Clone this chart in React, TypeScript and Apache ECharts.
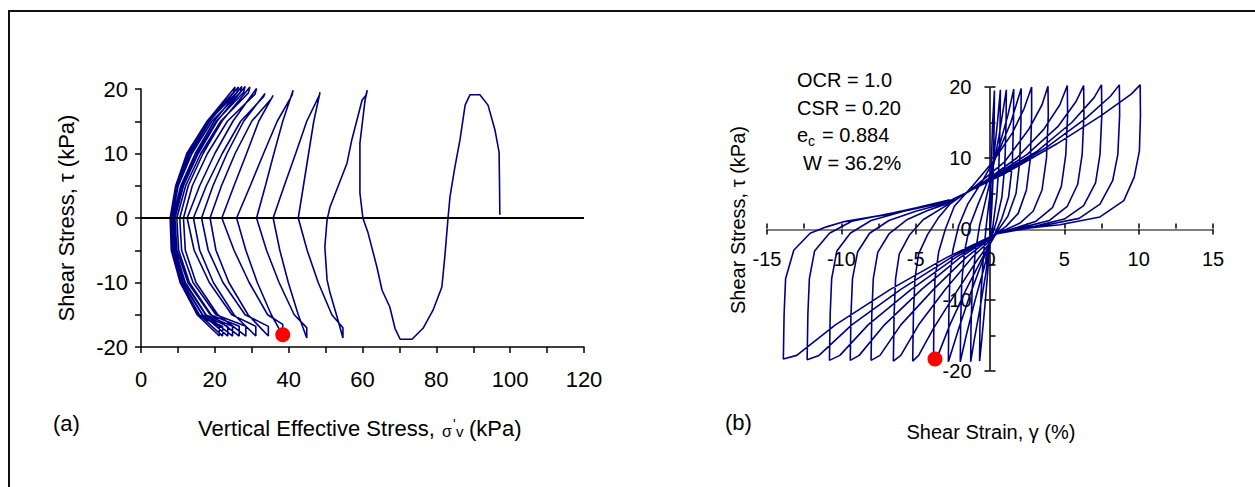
import React, { useEffect, useRef } from "react";
import * as echarts from "echarts";

const FONT = "'Liberation Sans', Arial, Helvetica, sans-serif";
const NAVY = "#000080";

// ---------- (a) stress path: [vertical effective stress, shear stress] ----------
const pathAFirstCycles = [
  [97.2, 0.5], [97.1, 6.0], [97.0, 10.2], [95.9, 13.6], [94.0, 17.5], [91.8, 19.1], [89.1, 19.1],
  [87.8, 17.5], [86.4, 12.1], [85.0, 7.8], [83.7, 3.3], [83.2, 0.2], [82.3, -6.0], [81.5, -10.7], [79.1, -14.3], [76.4, -17.1], [73.4, -18.8], [70.2, -18.8],
  [68.8, -17.1], [67.4, -13.8], [65.3, -11.2], [63.9, -7.6], [61.5, -2.3], [60.1, 0.0], [59.3, 3.9], [59.3, 11.6], [60.7, 18.3], [61.3, 19.8],
  [60.9, 19.0], [59.9, 18.3], [57.1, 12.1], [55.8, 8.5], [51.2, 1.7], [50.4, -0.3], [49.8, -4.5], [50.4, -9.6], [51.2, -11.6], [53.2, -15.5], [54.7, -18.6],
];
const pathAMidCycles = [
  [54.7, -17.0], [51.7, -15], [48.0, -10], [45.0, -5], [42.6, 0], [44.0, 5], [45.4, 10], [46.8, 15], [48.5, 19.5],
  [48.3, 19.0], [44.9, 15], [41.9, 10], [38.8, 5], [35.8, 0], [37.6, -5], [39.9, -10], [42.6, -15], [44.9, -18.6],
  [44.9, -17.0], [41.5, -15], [37.4, -10], [34.0, -5], [31.3, 0], [33.7, 5], [36.0, 10], [38.4, 15], [41.2, 19.8],
  [40.9, 19.0], [36.9, 15], [33.2, 10], [29.6, 5], [25.9, 0], [28.4, -5], [31.5, -10], [35.3, -15], [38.4, -18.2],
  [38.4, -16.5], [34.3, -15], [29.3, -10], [25.2, -5], [21.9, 0], [25.2, 5], [28.6, 10], [31.9, 15], [35.8, 19.0],
  [35.3, 18.5], [30.0, 15], [25.5, 10], [21.8, 5], [18.7, 0], [20.3, -5], [23.8, -10], [29.0, -15], [34.5, -18.3],
  [34.5, -16.8], [28.2, -15], [22.2, -10], [18.2, -5], [16.4, 0], [19.5, 5], [23.3, 10], [27.8, 15], [33.6, 19.3],
  [33.2, 18.8], [27.0, 15], [22.0, 10], [17.7, 5], [14.2, 0], [15.9, -5], [19.6, -10], [25.2, -15], [31.1, -18.3],
  [31.1, -16.8], [24.6, -15], [18.5, -10], [14.4, -5], [12.5, 0], [15.9, 5], [20.0, 10], [24.9, 15], [31.3, 20.1],
];
const pathALateCycles = [
  [30.9, 19.2], [23.4, 15], [18.0, 10], [13.9, 5], [11.5, 0], [12.0, -5], [14.9, -10], [20.8, -15], [28.4, -18.3],
  [28.4, -16.8], [20.3, -15], [14.1, -10], [11.0, -5], [10.5, 0], [12.8, 5], [16.8, 10], [21.9, 15], [29.5, 20.3],
  [29.1, 19.4], [21.6, 15], [16.2, 10], [12.1, 5], [9.7, 0], [10.2, -5], [13.1, -10], [19.0, -15], [26.6, -18.3],
  [26.6, -16.8], [18.8, -15], [12.7, -10], [9.7, -5], [9.2, 0], [11.5, 5], [15.5, 10], [20.6, 15], [28.2, 20.4],
  [27.8, 19.5], [20.4, 15], [15.2, 10], [11.1, 5], [8.8, 0], [9.3, -5], [12.0, -10], [17.6, -15], [24.8, -18.3],
  [24.8, -16.8], [17.5, -15], [11.8, -10], [9.0, -5], [8.5, 0], [10.8, 5], [14.7, 10], [19.8, 15], [27.3, 20.4],
  [26.9, 19.5], [19.2, 15], [13.8, 10], [10.1, 5], [8.3, 0], [8.8, -5], [11.3, -10], [16.7, -15], [23.5, -18.3],
  [23.5, -16.8], [16.6, -15], [11.2, -10], [8.6, -5], [8.1, 0], [9.9, 5], [13.3, 10], [18.6, 15], [26.4, 20.3],
  [26.0, 19.5], [18.3, 15], [13.0, 10], [9.7, 5], [8.0, 0], [8.4, -5], [10.8, -10], [15.8, -15], [22.1, -18.3],
  [22.1, -16.8], [15.7, -15], [10.7, -10], [8.3, -5], [7.9, 0], [9.5, 5], [12.6, 10], [17.9, 15], [25.5, 20.3],
  [25.1, 19.5], [17.9, 15], [12.4, 10], [9.4, 5], [7.9, 0], [8.3, -5], [10.6, -10], [15.2, -15], [21.2, -18.3],
  [21.2, -16.8], [15.3, -15], [10.6, -10], [8.2, -5], [7.9, 0], [9.2, 4],
];
const zeroLineA = [[0, 0], [120, 0]];
const failureA = [38.4, -18.1];

// ---------- (b) stress-strain loops: [shear strain %, shear stress] ----------
const loopsBSmall = [
  [0, 0], [0.05, 5], [0.1, 10], [0.18, 15], [0.3, 19.5],
  [0.28, 15], [0.22, 8], [0.12, 3], [0.0, -1], [-0.15, -6], [-0.35, -11], [-0.55, -15.5], [-0.7, -18.6],
  [-0.68, -14], [-0.6, -9], [-0.45, -4], [-0.25, 0.5], [0.0, 5], [0.25, 10], [0.5, 15], [0.7, 19.6],
  [0.68, 15], [0.6, 9], [0.45, 4.5], [0.2, 0.5], [0.0, -2], [-0.3, -6.5], [-0.7, -11.5], [-1.05, -15.5], [-1.3, -18.7],
  [-1.28, -14], [-1.2, -8.5], [-1.0, -3.5], [-0.7, 0.5], [-0.3, 4], [0.15, 8], [0.6, 13], [1.1, 19.6],
  [1.08, 15], [1.0, 9], [0.8, 4.5], [0.45, 1.2], [0.1, -1.2], [-0.4, -5.5], [-1.0, -10], [-1.6, -15], [-2.0, -18.7],
  [-1.97, -13], [-1.9, -7.5], [-1.7, -3], [-1.35, 0.5], [-0.8, 3.5], [-0.1, 7], [0.6, 11.5], [1.2, 16], [1.6, 19.7],
  [1.58, 15], [1.5, 9], [1.25, 4.5], [0.8, 1.5], [0.3, -0.8], [-0.5, -4.5], [-1.3, -9], [-2.1, -14], [-2.8, -18.7],
];
const loopsBMid = [
  [-2.77, -12], [-2.7, -7], [-2.5, -3], [-2.1, 0.5], [-1.5, 3.5], [-0.5, 6.8], [0.5, 10.5], [1.4, 15], [2.1, 19.8],
  [2.08, 15], [2.0, 9.5], [1.75, 5], [1.2, 1.8], [0.5, -0.3], [-0.5, -4], [-1.6, -8.5], [-2.7, -13.5], [-3.5, -17.8], [-3.8, -18.6],
  [-3.77, -12], [-3.7, -7], [-3.45, -3.2], [-3.0, 0], [-2.4, 3.2], [-1.2, 6], [0.2, 9.5], [1.5, 13.5], [2.3, 17], [2.8, 20.0],
  [2.8, 16], [2.72, 10], [2.45, 5.5], [1.9, 2.2], [1.1, 0.4], [0.4, -0.7], [-0.9, -4.5], [-2.3, -9], [-3.8, -14], [-4.8, -17.8], [-5.2, -18.6],
  [-5.15, -12], [-5.05, -7], [-4.8, -3.5], [-4.2, -0.8], [-3.5, 1.5], [-2.7, 3.5], [-1.0, 6], [1.0, 9.5], [2.6, 14], [3.5, 17.5], [3.9, 20.1],
  [3.92, 16], [3.8, 10], [3.5, 5.5], [2.9, 2.5], [2.0, 0.8], [0.5, -0.6], [-1.2, -4], [-3.0, -8.5], [-4.8, -13.5], [-6.0, -17.8], [-6.5, -18.6],
  [-6.45, -12], [-6.35, -7], [-6.1, -3.5], [-5.4, -0.8], [-4.5, 1.3], [-2.7, 3.6], [-0.5, 6.5], [1.8, 10], [3.6, 14], [4.7, 17.5], [5.2, 20.2],
  [5.22, 16], [5.1, 10.5], [4.8, 6], [4.2, 3], [3.1, 1.1], [1.8, 0.2], [0.4, -0.7], [-1.6, -4], [-3.8, -8.5], [-6.0, -13.5], [-7.4, -17.8], [-8.0, -18.5],
];
const loopsBLarge = [
  [-7.95, -12], [-7.85, -7], [-7.55, -3.3], [-6.8, -0.7], [-5.6, 1.3], [-4.2, 2.6], [-2.7, 3.7], [-0.2, 6.8], [2.5, 10.5], [4.6, 14.5], [5.8, 18], [6.3, 20.2],
  [6.32, 16], [6.2, 10.5], [5.9, 6.3], [5.2, 3.2], [4.0, 1.2], [2.3, 0.3], [0.4, -0.7], [-2.0, -4], [-4.6, -8.5], [-7.1, -13.5], [-8.8, -17.8], [-9.4, -18.5],
  [-9.35, -12], [-9.25, -7], [-8.9, -3.2], [-8.1, -0.6], [-6.8, 1.2], [-5.0, 2.5], [-2.7, 3.8], [0.2, 7.2], [3.2, 11], [5.5, 15], [7.0, 18.5], [7.5, 20.3],
  [7.52, 16], [7.4, 10.5], [7.1, 6.5], [6.3, 3.3], [5.0, 1.4], [3.0, 0.4], [0.4, -0.7], [-2.3, -4], [-5.3, -8.5], [-8.2, -13.5], [-10.1, -17.8], [-10.8, -18.5],
  [-10.75, -12], [-10.65, -7], [-10.3, -3.1], [-9.4, -0.6], [-8.0, 1.2], [-5.8, 2.5], [-2.7, 3.9], [0.6, 7.5], [3.8, 11.5], [6.4, 15.5], [8.1, 18.7], [8.7, 20.3],
  [8.72, 16], [8.6, 10.5], [8.25, 6.8], [7.4, 3.5], [6.0, 1.5], [3.6, 0.5], [0.4, -0.7], [-2.6, -4], [-6.0, -8.5], [-9.3, -13.5], [-11.5, -17.8], [-12.3, -18.4],
  [-12.25, -12], [-12.15, -7], [-11.8, -3.1], [-10.8, -0.6], [-9.3, 1.1], [-6.5, 2.3], [-2.7, 4.0], [1.0, 7.8], [4.5, 12], [7.5, 16], [9.5, 19], [10.1, 20.3],
  [10.12, 16], [10.05, 11], [9.7, 7.3], [9.0, 4.0], [7.4, 1.7], [4.7, 0.6], [2.5, 0.1], [0.4, -0.7], [-2.9, -4], [-6.7, -8.5], [-10.4, -13.5], [-13.0, -17.8], [-13.9, -18.3],
  [-13.85, -12], [-13.75, -7], [-13.2, -3], [-12.1, -0.6], [-11.0, 0.3], [-9.9, 1.0], [-6.5, 2.2], [-2.7, 4.1],
];
const failureB = [-3.7, -18.3];

const annotationLines = ["OCR = 1.0", "CSR = 0.20", "= 0.884", "W = 36.2%"];

const pathA = [...pathAFirstCycles, ...pathAMidCycles, ...pathALateCycles];
const pathB = [...loopsBSmall, ...loopsBMid, ...loopsBLarge];

const txt = (text: string, x: number, y: number, size: number, extra: any = {}) => ({
  type: "text",
  x,
  y,
  silent: true,
  ...extra,
  style: {
    text,
    fill: "#000",
    fontSize: size,
    fontFamily: FONT,
    textAlign: extra.align || "left",
    textVerticalAlign: "middle",
    align: extra.align || "left",
    verticalAlign: "middle",
  },
});

const blackLine = { color: "#000", width: 1.5 };
const hiddenAxis = (gridIndex: number, min: number, max: number) => ({
  gridIndex, type: "value", min, max, show: false,
  axisLine: { show: false, onZero: false }, axisTick: { show: false }, axisLabel: { show: false },
  splitLine: { show: false },
});

const option: any = {
  animation: false,
  backgroundColor: "#fff",
  grid: [
    { left: 141, top: 89, width: 443, height: 258, containLabel: false, outerBoundsMode: "none" },
    { left: 767, top: 87, width: 446, height: 284, containLabel: false, outerBoundsMode: "none" },
    // holder for the horizontal axis of (b), drawn at tau = 0
    { left: 767, top: 228.5, width: 446, height: 1, containLabel: false, outerBoundsMode: "none" },
    // holder for the vertical axis of (b), drawn at gamma = 0
    { left: 989.5, top: 87, width: 1, height: 284, containLabel: false, outerBoundsMode: "none" },
  ],
  xAxis: [
    {
      gridIndex: 0, type: "value", min: 0, max: 120, interval: 20, position: "bottom",
      axisLine: { onZero: false, lineStyle: blackLine },
      axisTick: { show: true, length: 6, lineStyle: blackLine },
      minorTick: { show: true, splitNumber: 2, length: 6, lineStyle: blackLine },
      axisLabel: { fontSize: 22, color: "#000", fontFamily: FONT, margin: 21 },
      splitLine: { show: false }, minorSplitLine: { show: false },
    },
    hiddenAxis(1, -15, 15),
    {
      gridIndex: 2, type: "value", min: -15, max: 15, interval: 5, position: "bottom",
      axisLine: { onZero: false, lineStyle: { color: "#555", width: 1.5 } },
      axisTick: { show: true, length: 5, lineStyle: blackLine },
      minorTick: { show: false },
      axisLabel: { fontSize: 20, color: "#000", fontFamily: FONT, margin: 19 },
      splitLine: { show: false },
    },
    {
      gridIndex: 2, type: "value", min: -15, max: 15, interval: 5, position: "top",
      axisLine: { show: false, onZero: false },
      axisTick: { show: true, length: 5, lineStyle: blackLine },
      minorTick: { show: true, splitNumber: 2, length: 5, lineStyle: blackLine },
      axisLabel: { show: false },
      splitLine: { show: false },
    },
    hiddenAxis(3, 0, 1),
  ],
  yAxis: [
    {
      gridIndex: 0, type: "value", min: -20, max: 20, interval: 10, position: "left",
      axisLine: { onZero: false, lineStyle: blackLine },
      axisTick: { show: true, length: 6, lineStyle: blackLine },
      minorTick: { show: true, splitNumber: 2, length: 6, lineStyle: blackLine },
      axisLabel: { fontSize: 22, color: "#000", fontFamily: FONT, margin: 13 },
      splitLine: { show: false }, minorSplitLine: { show: false },
    },
    hiddenAxis(1, -20, 20),
    hiddenAxis(2, 0, 1),
    {
      gridIndex: 3, type: "value", min: -20, max: 20, interval: 10, position: "left",
      axisLine: { onZero: false, lineStyle: blackLine },
      axisTick: { show: true, length: 5, lineStyle: blackLine },
      minorTick: { show: false },
      axisLabel: { fontSize: 20, color: "#000", fontFamily: FONT, margin: 18 },
      splitLine: { show: false },
    },
    {
      gridIndex: 3, type: "value", min: -20, max: 20, interval: 10, position: "right",
      axisLine: { show: false, onZero: false },
      axisTick: { show: true, length: 5, lineStyle: blackLine },
      minorTick: { show: true, splitNumber: 2, length: 5, lineStyle: blackLine },
      axisLabel: { show: false },
      splitLine: { show: false },
    },
  ],
  series: [
    {
      type: "line", xAxisIndex: 0, yAxisIndex: 0, data: pathA, symbol: "none", showSymbol: false,
      lineStyle: { color: NAVY, width: 1.6 }, z: 2, silent: true, clip: false,
    },
    {
      type: "line", xAxisIndex: 0, yAxisIndex: 0, data: zeroLineA, symbol: "none", showSymbol: false,
      lineStyle: { color: "#000", width: 2 }, z: 3, silent: true,
    },
    {
      type: "scatter", xAxisIndex: 0, yAxisIndex: 0, data: [failureA], symbolSize: 15,
      itemStyle: { color: "#ff0000", opacity: 1 }, z: 4, silent: true,
    },
    {
      type: "line", xAxisIndex: 1, yAxisIndex: 1, data: pathB, symbol: "none", showSymbol: false,
      lineStyle: { color: NAVY, width: 1.6 }, z: 2, silent: true, clip: false,
    },
    {
      type: "scatter", xAxisIndex: 1, yAxisIndex: 1, data: [failureB], symbolSize: 15,
      itemStyle: { color: "#ff0000", opacity: 1 }, z: 4, silent: true,
    },
  ],
  graphic: [
    {
      type: "rect", silent: true, z: 0,
      shape: { x: 9, y: 11, width: 1400, height: 700 },
      style: { fill: "none", stroke: "#111", lineWidth: 2 },
    },
    txt("Shear Stress, \u03c4 (kPa)", 66, 218, 22, { rotation: Math.PI / 2, align: "center" }),
    txt("Shear Stress, \u03c4 (kPa)", 738, 220, 20, { rotation: Math.PI / 2, align: "center" }),
    txt("(a)", 53, 423, 22),
    txt("Vertical Effective Stress,", 198, 428, 22),
    txt("\u03c3", 442, 431, 16),
    txt("'", 453, 424, 14),
    txt("v", 456, 431, 15),
    txt("(kPa)", 469, 428, 22),
    txt("(b)", 725, 422, 22),
    txt("Shear Strain, \u03b3 (%)", 991, 432, 20, { align: "center" }),
    txt(annotationLines[0], 797, 80, 20),
    txt(annotationLines[1], 797, 108, 20),
    txt("e", 797, 135, 20),
    txt("c", 808, 141, 14),
    txt(annotationLines[2], 822, 135, 20),
    txt(annotationLines[3], 803, 163, 20),
  ],
};

export default function App() {
  const ref = useRef<HTMLDivElement>(null);
  useEffect(() => {
    if (!ref.current) return;
    const chart = echarts.init(ref.current, null, { renderer: "svg" });
    chart.setOption(option);
    return () => chart.dispose();
  }, []);
  return (
    <div
      ref={ref}
      style={{ position: "fixed", left: 0, top: 0, width: 1255, height: 487, background: "#fff" }}
    />
  );
}
